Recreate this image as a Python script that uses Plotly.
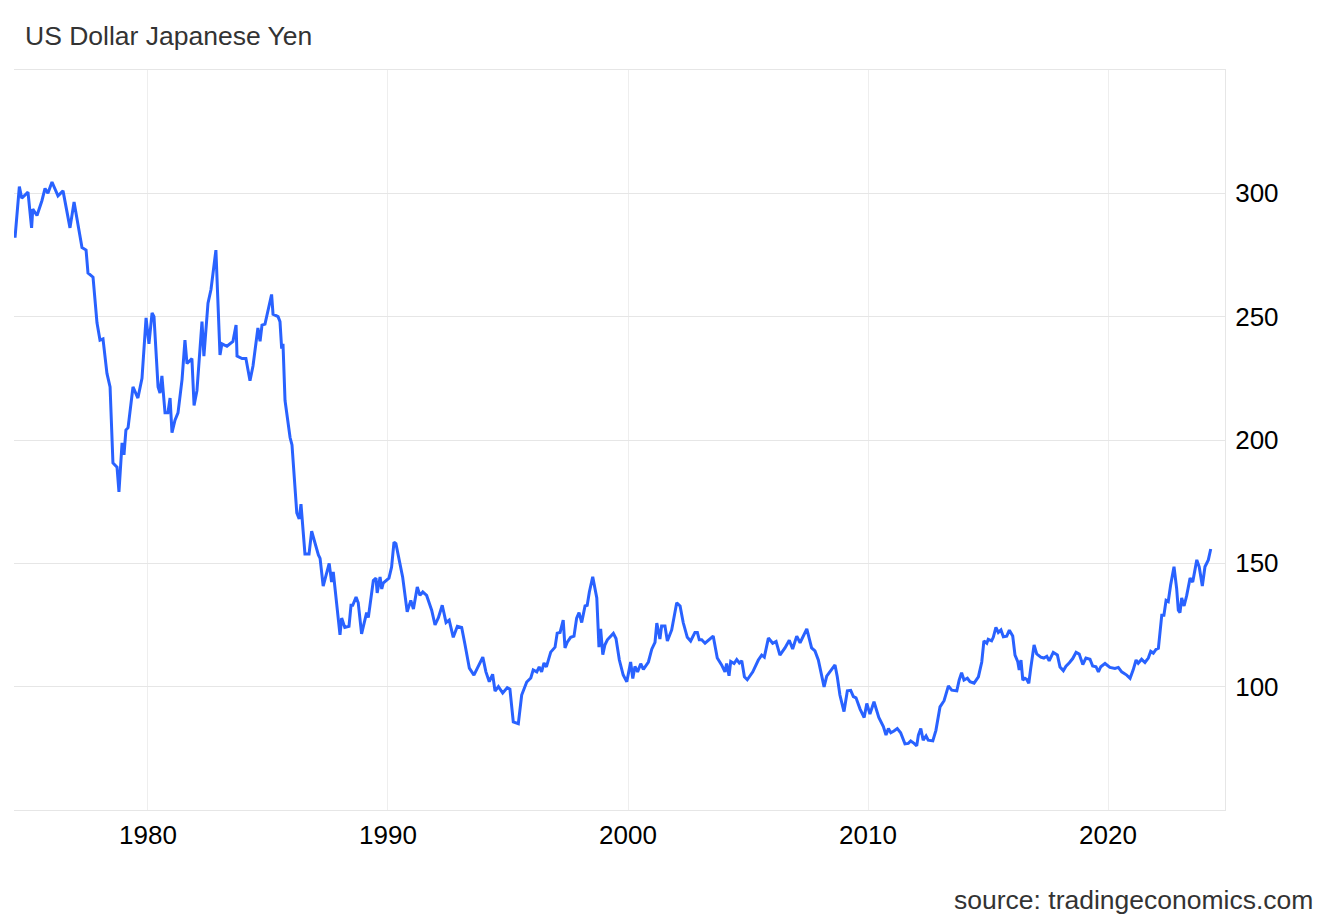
import plotly.graph_objects as go

# Decimal years and USD/JPY values
years = [
    1974.46, 1974.64, 1974.74, 1975.0, 1975.15, 1975.2, 1975.375, 1975.58, 1975.71, 1975.83,
    1976.0, 1976.25, 1976.46, 1976.75, 1976.92, 1977.25, 1977.42, 1977.5, 1977.71, 1977.875,
    1978.0, 1978.125, 1978.29, 1978.42, 1978.54, 1978.71, 1978.79, 1978.92, 1979.0, 1979.08,
    1979.17, 1979.375, 1979.58, 1979.75, 1979.92, 1980.04, 1980.17, 1980.25, 1980.42, 1980.5,
    1980.58, 1980.71, 1980.83, 1980.92, 1981.0, 1981.125, 1981.25, 1981.42, 1981.54, 1981.625,
    1981.83, 1981.92, 1982.04, 1982.25, 1982.33, 1982.5, 1982.625, 1982.83, 1983.0, 1983.08,
    1983.29, 1983.54, 1983.67, 1983.71, 1983.92, 1984.08, 1984.25, 1984.375, 1984.58, 1984.67,
    1984.75, 1984.875, 1985.15, 1985.21, 1985.42, 1985.5, 1985.57, 1985.625, 1985.71, 1985.92,
    1986.0, 1986.2, 1986.3, 1986.375, 1986.54, 1986.71, 1986.82, 1986.96, 1987.1, 1987.17,
    1987.3, 1987.55, 1987.65, 1987.72, 1987.86, 1988.0, 1988.07, 1988.2, 1988.375, 1988.46,
    1988.53, 1988.67, 1988.76, 1988.9, 1989.11, 1989.18, 1989.25, 1989.39, 1989.5, 1989.55,
    1989.67, 1989.74, 1989.8, 1990.04, 1990.15, 1990.25, 1990.33, 1990.43, 1990.61, 1990.8,
    1990.95, 1991.06, 1991.22, 1991.33, 1991.45, 1991.61, 1991.82, 1991.96, 1992.1, 1992.26,
    1992.42, 1992.55, 1992.72, 1992.89, 1993.07, 1993.21, 1993.39, 1993.58, 1993.76, 1993.95,
    1994.08, 1994.22, 1994.36, 1994.46, 1994.6, 1994.78, 1994.97, 1995.08, 1995.22, 1995.43,
    1995.57, 1995.78, 1995.95, 1996.05, 1996.2, 1996.3, 1996.4, 1996.5, 1996.6, 1996.78,
    1996.96, 1997.05, 1997.17, 1997.3, 1997.375, 1997.47, 1997.61, 1997.75, 1997.86, 1997.96,
    1998.07, 1998.21, 1998.3, 1998.39, 1998.53, 1998.625, 1998.7, 1998.79, 1998.86, 1998.95,
    1999.04, 1999.14, 1999.39, 1999.5, 1999.64, 1999.8, 1999.95, 2000.11, 2000.2, 2000.29,
    2000.4, 2000.53, 2000.64, 2000.85, 2000.99, 2001.125, 2001.2, 2001.33, 2001.4, 2001.54,
    2001.64, 2001.82, 2001.92, 2002.03, 2002.17, 2002.3, 2002.47, 2002.61, 2002.79, 2002.89,
    2002.97, 2003.07, 2003.21, 2003.55, 2003.72, 2003.9, 2004.04, 2004.11, 2004.21, 2004.28,
    2004.42, 2004.53, 2004.64, 2004.74, 2004.85, 2004.97, 2005.2, 2005.29, 2005.43, 2005.57,
    2005.68, 2005.85, 2006.03, 2006.17, 2006.33, 2006.54, 2006.72, 2006.86, 2007.03, 2007.17,
    2007.45, 2007.65, 2007.79, 2007.93, 2008.17, 2008.28, 2008.625, 2008.72, 2008.83, 2008.95,
    2009.0, 2009.14, 2009.28, 2009.39, 2009.5, 2009.67, 2009.84, 2009.95, 2010.08, 2010.25,
    2010.45, 2010.64, 2010.75, 2010.85, 2010.95, 2011.08, 2011.22, 2011.36, 2011.54, 2011.68,
    2011.78, 2011.92, 2012.03, 2012.1, 2012.2, 2012.3, 2012.42, 2012.51, 2012.7, 2012.83,
    2013.0, 2013.17, 2013.35, 2013.49, 2013.7, 2013.8, 2013.9, 2014.0, 2014.14, 2014.25,
    2014.42, 2014.6, 2014.74, 2014.83, 2014.95, 2015.01, 2015.15, 2015.22, 2015.33, 2015.43,
    2015.54, 2015.64, 2015.78, 2015.89, 2016.03, 2016.125, 2016.24, 2016.3, 2016.375, 2016.45,
    2016.54, 2016.61, 2016.7, 2016.78, 2016.92, 2017.03, 2017.2, 2017.33, 2017.45, 2017.55,
    2017.72, 2017.89, 2018.0, 2018.14, 2018.25, 2018.39, 2018.53, 2018.67, 2018.8, 2018.95,
    2019.08, 2019.25, 2019.36, 2019.5, 2019.6, 2019.7, 2019.875, 2020.08, 2020.29, 2020.43,
    2020.57, 2020.78, 2020.92, 2021.05, 2021.17, 2021.26, 2021.4, 2021.54, 2021.68, 2021.78,
    2021.89, 2022.0, 2022.1, 2022.24, 2022.33, 2022.42, 2022.51, 2022.61, 2022.75, 2022.86,
    2022.93, 2023.0, 2023.07, 2023.17, 2023.28, 2023.42, 2023.53, 2023.7, 2023.8, 2023.93,
    2024.04, 2024.18, 2024.28,
]

usdjpy = [
    282, 302.7, 298, 300.5, 286, 293.6, 291, 297, 302, 300,
    304.6, 299, 301, 286, 296.5, 278, 277, 267.7, 266, 247.5,
    240.5, 241, 227, 221.5, 190.7, 189, 179, 198.8, 194, 204,
    205, 221.5, 217, 225, 249.5, 239, 251.5, 250, 221.5, 219,
    226, 211, 211, 217, 203, 208, 211, 224.6, 240.5, 231,
    233, 214, 220, 248, 234, 255.5, 261, 277, 234.5, 239,
    238, 240, 246.6, 234, 233, 233, 224, 230, 245.4, 240,
    246.6, 247, 259, 251, 250, 248, 237, 239, 216, 201,
    198, 170.4, 168, 174, 153.8, 153.8, 163, 158, 153.4, 152,
    140.8, 150, 142.4, 146.5, 135, 121, 127.8, 124, 124.5, 133,
    133, 136.3, 134, 121.4, 130, 128, 133, 143, 144, 138,
    144.5, 139.6, 142, 144, 148.5, 158.6, 158, 152.6, 144.5, 130.3,
    135, 131.5, 140.4, 137, 138.4, 137, 131, 125, 128, 133,
    126, 127, 120, 124.5, 124, 117, 107.5, 104.7, 108, 112,
    106, 102, 105, 98.2, 100, 97.4, 99.6, 99, 85.7, 85,
    96.6, 101.9, 103.5, 106.8, 106, 108, 106, 109.6, 108, 114,
    116, 121.7, 122, 127, 115.7, 118, 120, 120.5, 127.8, 130,
    126, 132.7, 133, 138.4, 144.5, 139.5, 136, 116, 123.4, 113,
    117, 119, 121.6, 119.5, 110.8, 104.7, 102, 110, 103.3, 108.2,
    106, 109.3, 107, 110, 115.2, 118, 125.8, 119.3, 124.6, 124.6,
    118.5, 123, 127.8, 134, 132.7, 126, 120, 118.5, 122, 122,
    119, 119, 117.6, 120.5, 111.6, 108.8, 106, 109.4, 104.4, 110.2,
    109.4, 111, 109.6, 110.5, 104, 102.8, 106, 108, 110.8, 112.8,
    112, 119.7, 117.6, 118.3, 112.8, 115.7, 118.8, 115.3, 120.5, 117.8,
    123.4, 115.7, 114.5, 110.8, 99.9, 104.3, 108.8, 104, 96.6, 91.8,
    89.9, 98.3, 98.5, 96, 95.5, 90.9, 87.5, 93.2, 88.9, 93.9,
    87.5, 83.8, 80.4, 83, 81.3, 82, 83, 81.3, 76.8, 77,
    78, 77, 76, 80.4, 83, 78.3, 80, 78.3, 78, 82.3,
    91.8, 94.3, 100.3, 98.6, 98.3, 102.7, 105.7, 102.7, 103.4, 102,
    101.4, 104, 110, 118.6, 117.6, 119.2, 118.6, 120, 124, 122,
    123, 120.2, 120.5, 122.9, 120.5, 112.8, 110.1, 106.8, 110.8, 102.7,
    103.4, 103, 101.4, 107.4, 116.9, 113.3, 112, 111.6, 112.3, 110.5,
    113.9, 112.9, 108, 106.5, 108.3, 109.7, 111.4, 113.9, 113.2, 109,
    111.6, 111.1, 108.4, 108.1, 106, 108.1, 109.4, 107.8, 107.4, 107.8,
    106, 104.7, 103.4, 106.8, 110.8, 109.5, 111.1, 109.8, 111.6, 114.3,
    113.6, 115.1, 115.6, 129, 129, 135, 134.5, 141.2, 148.6, 139.8,
    131, 130, 136, 132.7, 137, 144, 142.4, 151.4, 148.6, 140.8,
    148.6, 151.4, 155.8,
]

x_ticks = [1980, 1990, 2000, 2010, 2020]
y_ticks = [50, 100, 150, 200, 250, 300, 350]
y_labels = ["", "100", "150", "200", "250", "300", ""]

FONT = "Arial, 'Liberation Sans', sans-serif"
GRID = "#e6e6e6"
VGRID = "#eeeeee"

# page body has an 8px margin, so the figure is drawn 8px in from the corner
W, H = 1324, 916

fig = go.Figure()
fig.add_trace(go.Scatter(
    x=years, y=usdjpy, mode="lines",
    line=dict(color="#2962ff", width=3),
    hoverinfo="x+y", showlegend=False,
))

fig.update_layout(
    width=W, height=H,
    margin=dict(l=6, r=107, t=62, b=114),
    paper_bgcolor="white", plot_bgcolor="white",
    font=dict(family=FONT, size=26, color="#000"),
    title=dict(
        text="US Dollar Japanese Yen",
        font=dict(family=FONT, size=26.5, color="#333"),
        xref="container", yref="container",
        x=17 / W, xanchor="left",
        y=1 - 28 / H, yanchor="middle",
    ),
    xaxis=dict(
        range=[1974.417, 2024.875],
        tickmode="array", tickvals=x_ticks,
        ticktext=[str(t) for t in x_ticks],
        showgrid=True, gridcolor=VGRID, gridwidth=1,
        showline=True, mirror=True, linecolor=GRID, linewidth=1,
        ticks="", zeroline=False,
        tickfont=dict(size=26, color="#000"),
        ticklabelstandoff=2,
    ),
    yaxis=dict(
        range=[50, 350], side="right",
        tickmode="array", tickvals=y_ticks, ticktext=y_labels,
        showgrid=True, gridcolor=GRID, gridwidth=1,
        showline=True, linecolor=GRID, linewidth=1,
        ticks="", zeroline=False,
        tickfont=dict(size=26, color="#000"),
        ticklabelstandoff=4,
    ),
    annotations=[dict(
        text="source: tradingeconomics.com",
        xref="paper", yref="paper",
        x=(1315 - 14) / 1211, xanchor="right",
        y=-(900 - 810) / 740, yanchor="middle",
        showarrow=False,
        font=dict(family=FONT, size=26.5, color="#333"),
    )],
)

fig.write_html("out.html")
